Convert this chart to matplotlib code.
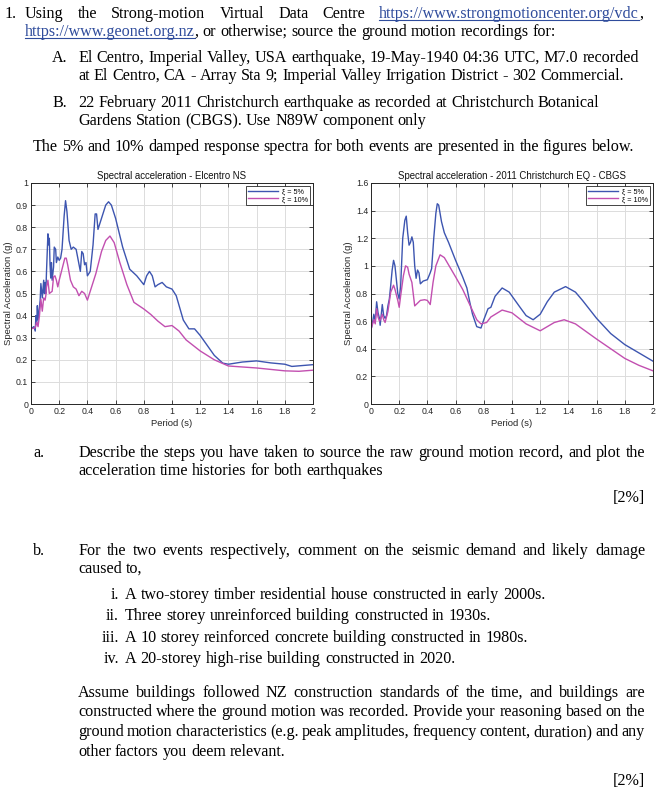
import numpy as np
import matplotlib
matplotlib.use("Agg")
import matplotlib.pyplot as plt
from matplotlib.lines import Line2D

# ---- data ----
el_t5 = [0.00, 0.02, 0.03, 0.035, 0.04, 0.045, 0.05, 0.06, 0.065, 0.07, 0.08, 0.09, 0.095, 0.10, 0.105,
         0.11, 0.12, 0.125, 0.13, 0.135, 0.14, 0.145, 0.15, 0.16, 0.165, 0.175, 0.18, 0.19, 0.20, 0.21,
         0.22, 0.235, 0.245, 0.255, 0.27, 0.285, 0.30, 0.32, 0.335, 0.35, 0.36, 0.37, 0.38, 0.39, 0.40,
         0.42, 0.44, 0.455, 0.465, 0.475, 0.49, 0.51, 0.53, 0.55, 0.57, 0.60, 0.65, 0.70, 0.75, 0.80,
         0.82, 0.84, 0.86, 0.88, 0.90, 0.93, 0.96, 1.00, 1.03, 1.08, 1.12, 1.16, 1.20, 1.30, 1.36,
         1.40, 1.50, 1.60, 1.70, 1.80, 1.85, 2.00]
el_sa5 = [0.34, 0.35, 0.33, 0.40, 0.36, 0.445, 0.38, 0.44, 0.47, 0.545, 0.48, 0.56, 0.50, 0.55, 0.50,
          0.60, 0.77, 0.72, 0.75, 0.63, 0.57, 0.64, 0.56, 0.62, 0.71, 0.70, 0.64, 0.665, 0.65, 0.66,
          0.70, 0.85, 0.92, 0.87, 0.74, 0.70, 0.71, 0.70, 0.65, 0.60, 0.69, 0.68, 0.63, 0.64, 0.58,
          0.60, 0.72, 0.86, 0.86, 0.79, 0.82, 0.86, 0.90, 0.915, 0.90, 0.84, 0.71, 0.61, 0.58, 0.54,
          0.58, 0.60, 0.58, 0.53, 0.54, 0.55, 0.53, 0.52, 0.49, 0.38, 0.34, 0.34, 0.31, 0.22, 0.185,
          0.18, 0.19, 0.195, 0.186, 0.18, 0.17, 0.178]

el_t10 = [0.00, 0.03, 0.04, 0.05, 0.06, 0.07, 0.08, 0.09, 0.10, 0.105, 0.11, 0.12, 0.13, 0.15, 0.16,
          0.17, 0.18, 0.19, 0.20, 0.22, 0.24, 0.25, 0.26, 0.28, 0.30, 0.32, 0.34, 0.36, 0.38, 0.40,
          0.43, 0.46, 0.50, 0.53, 0.56, 0.59, 0.63, 0.68, 0.73, 0.80, 0.85, 0.90, 0.95, 1.00, 1.05,
          1.10, 1.20, 1.30, 1.40, 1.60, 1.80, 1.90, 2.00]
el_sa10 = [0.34, 0.345, 0.37, 0.35, 0.40, 0.475, 0.42, 0.48, 0.47, 0.49, 0.53, 0.56, 0.50, 0.51, 0.575,
           0.58, 0.56, 0.53, 0.56, 0.61, 0.66, 0.66, 0.63, 0.56, 0.53, 0.52, 0.49, 0.51, 0.50, 0.47,
           0.53, 0.59, 0.69, 0.74, 0.76, 0.73, 0.64, 0.54, 0.46, 0.43, 0.405, 0.375, 0.35, 0.355, 0.33,
           0.29, 0.24, 0.20, 0.172, 0.163, 0.15, 0.148, 0.153]

ch_t5 = [0.00, 0.01, 0.02, 0.03, 0.04, 0.05, 0.06, 0.065, 0.07, 0.08, 0.09, 0.10, 0.11, 0.12, 0.13,
         0.14, 0.15, 0.16, 0.17, 0.18, 0.19, 0.20, 0.21, 0.225, 0.24, 0.25, 0.26, 0.27, 0.28, 0.29,
         0.30, 0.31, 0.32, 0.33, 0.34, 0.35, 0.37, 0.40, 0.42, 0.43, 0.445, 0.46, 0.47, 0.48, 0.50,
         0.52, 0.55, 0.60, 0.65, 0.68, 0.70, 0.72, 0.75, 0.78, 0.80, 0.83, 0.85, 0.88, 0.93, 0.98,
         1.05, 1.10, 1.15, 1.20, 1.25, 1.30, 1.38, 1.45, 1.50, 1.60, 1.70, 1.80, 1.90, 2.00]
ch_sa5 = [0.54, 0.58, 0.65, 0.60, 0.74, 0.66, 0.62, 0.57, 0.62, 0.72, 0.64, 0.62, 0.64, 0.71, 0.76,
          0.86, 0.97, 1.04, 1.00, 0.90, 0.80, 0.76, 0.85, 1.20, 1.33, 1.36, 1.24, 1.15, 1.17, 1.21,
          1.17, 1.00, 0.91, 0.97, 0.95, 0.87, 0.89, 0.90, 0.95, 0.98, 1.20, 1.38, 1.45, 1.44, 1.32,
          1.24, 1.17, 1.04, 0.92, 0.84, 0.74, 0.65, 0.56, 0.55, 0.61, 0.69, 0.70, 0.78, 0.84, 0.81,
          0.71, 0.64, 0.61, 0.65, 0.74, 0.81, 0.85, 0.81, 0.75, 0.62, 0.51, 0.43, 0.37, 0.31]

ch_t10 = [0.00, 0.02, 0.03, 0.04, 0.05, 0.06, 0.07, 0.08, 0.09, 0.10, 0.12, 0.14, 0.16, 0.17, 0.19,
          0.20, 0.21, 0.23, 0.245, 0.26, 0.27, 0.29, 0.31, 0.33, 0.35, 0.38, 0.40, 0.42, 0.44, 0.46,
          0.49, 0.52, 0.56, 0.60, 0.65, 0.70, 0.75, 0.78, 0.82, 0.85, 0.93, 1.00, 1.10, 1.20, 1.25,
          1.30, 1.37, 1.45, 1.60, 1.70, 1.80, 1.90, 2.00]
ch_sa10 = [0.54, 0.61, 0.58, 0.69, 0.63, 0.60, 0.62, 0.65, 0.61, 0.59, 0.67, 0.81, 0.86, 0.83, 0.75,
           0.70, 0.78, 0.93, 1.00, 0.99, 0.94, 0.88, 0.71, 0.73, 0.75, 0.755, 0.75, 0.72, 0.88, 1.00,
           1.08, 1.06, 0.99, 0.92, 0.83, 0.72, 0.61, 0.58, 0.59, 0.63, 0.68, 0.66, 0.58, 0.53, 0.56,
           0.59, 0.61, 0.58, 0.47, 0.40, 0.33, 0.28, 0.24]

x_ticks = [0, 0.2, 0.4, 0.6, 0.8, 1, 1.2, 1.4, 1.6, 1.8, 2]
left_yticks = [0, 0.1, 0.2, 0.3, 0.4, 0.5, 0.6, 0.7, 0.8, 0.9, 1]
right_yticks = [0, 0.2, 0.4, 0.6, 0.8, 1, 1.2, 1.4, 1.6]
legend_labels = ["\u03be = 5%", "\u03be = 10%"]

W, H = 657, 800
fig = plt.figure(figsize=(W / 100, H / 100), dpi=100)
renderer = fig.canvas.get_renderer()

SERIF = "Liberation Serif"
SANS = "Liberation Sans"
FS = 11.6
LINK = "#2f4c9c"
BLUE = "#3d55b0"
PINK = "#c24fb0"


def fx(x):
    return x / W


def fy(y):
    return 1 - y / H


def put(x, y, s, color="black", ha="left"):
    return fig.text(fx(x), fy(y), s, fontsize=FS, family=SERIF, color=color,
                    ha=ha, va="baseline")


# width of one space, measured then thrown away
_a = put(100, 100, "x x")
_b = put(100, 100, "xx")
space_w = _a.get_window_extent(renderer).width - _b.get_window_extent(renderer).width
_a.remove()
_b.remove()


def line(tokens, x0, y, x1=None):
    # tokens: (text, color, underline, space_before); justified when x1 is given
    texts = [put(x0, y, t[0], t[1]) for t in tokens]
    widths = [t.get_window_extent(renderer).width for t in texts]
    n_sp = sum(1 for t in tokens[1:] if t[3])
    gap = space_w
    if x1 is not None and n_sp > 0:
        gap = (x1 - x0 - sum(widths)) / n_sp
    x = x0
    for i, (txt, tok) in enumerate(zip(texts, tokens)):
        if i > 0 and tok[3]:
            x += gap
        txt.set_x(fx(x))
        if tok[2]:
            fig.lines.append(Line2D([fx(x), fx(x + widths[i])], [fy(y + 2), fy(y + 2)],
                                    color=tok[1], lw=0.8, transform=fig.transFigure))
        x += widths[i]


def plain(s, color="black"):
    return [(w, color, False, True) for w in s.split()]


# ---- question text ----
put(5, 18, "1.")
line(plain("Using the Strong-motion Virtual Data Centre")
     + [("https://www.strongmotioncenter.org/vdc", LINK, True, True), (",", "black", False, False)],
     25, 18, 643)
line([("https://www.geonet.org.nz", LINK, True, True), (",", "black", False, False)]
     + plain("or otherwise; source the ground motion recordings for:"), 25, 36)

put(52, 62, "A.")
line(plain("El Centro, Imperial Valley, USA earthquake, 19-May-1940 04:36 UTC, M7.0 recorded"), 78, 62)
line(plain("at El Centro, CA - Array Sta 9; Imperial Valley Irrigation District - 302 Commercial."), 78, 80)
put(52, 107, "B.")
line(plain("22 February 2011 Christchurch earthquake as recorded at Christchurch Botanical"), 78, 107)
line(plain("Gardens Station (CBGS). Use N89W component only"), 78, 125)
line(plain("The 5% and 10% damped response spectra for both events are presented in the figures below."), 33, 151)

put(33, 457, "a.")
line(plain("Describe the steps you have taken to source the raw ground motion record, and plot the"), 78, 457, 645)
line(plain("acceleration time histories for both earthquakes"), 78, 475)
put(645, 502, "[2%]", ha="right")

put(33, 555, "b.")
line(plain("For the two events respectively, comment on the seismic demand and likely damage"), 78, 555, 645)
line(plain("caused to,"), 78, 573)
items = [("i.", "A two-storey timber residential house constructed in early 2000s."),
         ("ii.", "Three storey unreinforced building constructed in 1930s."),
         ("iii.", "A 10 storey reinforced concrete building constructed in 1980s."),
         ("iv.", "A 20-storey high-rise building constructed in 2020.")]
for k, (num, s) in enumerate(items):
    yy = [599, 620, 642, 663][k]
    put(119, yy, num, ha="right")
    line(plain(s), 125, yy)

para = ["Assume buildings followed NZ construction standards of the time, and buildings are",
        "constructed where the ground motion was recorded. Provide your reasoning based on the",
        "ground motion characteristics (e.g. peak amplitudes, frequency content, duration) and any",
        "other factors you deem relevant."]
for k, s in enumerate(para):
    yy = 697 + k * 19.5
    line(plain(s), 78, yy, 645 if k < 3 else None)
put(645, 785, "[2%]", ha="right")


# ---- the two spectra ----
def style(ax, yticks, title):
    ax.set_xlim(0, 2)
    ax.set_ylim(0, yticks[-1])
    ax.set_xticks(x_ticks)
    ax.set_xticklabels([f"{v:g}" for v in x_ticks])
    ax.set_yticks(yticks)
    ax.set_yticklabels([f"{v:g}" for v in yticks])
    ax.grid(True, color="#dcdcdc", lw=0.7)
    ax.set_axisbelow(True)
    ax.tick_params(direction="in", length=3, width=0.6, top=True, right=True,
                   labelsize=6.3, colors="#262626", pad=2)
    for sp in ax.spines.values():
        sp.set_linewidth(0.7)
        sp.set_color("#262626")
    ax.set_title(title, fontsize=6.9, color="#111111", pad=3, family=SANS)
    ax.set_xlabel("Period (s)", fontsize=6.8, color="#262626", labelpad=2, family=SANS)
    ax.set_ylabel("Spectral Acceleration (g)", fontsize=6.8, color="#262626", labelpad=2,
                  family=SANS)
    for lab in ax.get_xticklabels() + ax.get_yticklabels():
        lab.set_family(SANS)
    leg = ax.legend(legend_labels, loc="upper right", fontsize=5.2, frameon=True, fancybox=False,
                    edgecolor="#262626", framealpha=1, handlelength=4.2, borderpad=0.3,
                    labelspacing=0.1, borderaxespad=0.4, handletextpad=0.5)
    leg.get_frame().set_linewidth(0.6)
    for t in leg.get_texts():
        t.set_family([SANS, "DejaVu Sans"])


ax1 = fig.add_axes([fx(31), fy(404), 282 / W, 221 / H])
ax1.plot(el_t5, el_sa5, color=BLUE, lw=1.0)
ax1.plot(el_t10, el_sa10, color=PINK, lw=1.0)
style(ax1, left_yticks, "Spectral acceleration - Elcentro NS")

ax2 = fig.add_axes([fx(371), fy(404), 282 / W, 221 / H])
ax2.plot(ch_t5, ch_sa5, color=BLUE, lw=1.0)
ax2.plot(ch_t10, ch_sa10, color=PINK, lw=1.0)
style(ax2, right_yticks, "Spectral acceleration - 2011 Christchurch EQ - CBGS")

fig.savefig("out.png", dpi=100)
